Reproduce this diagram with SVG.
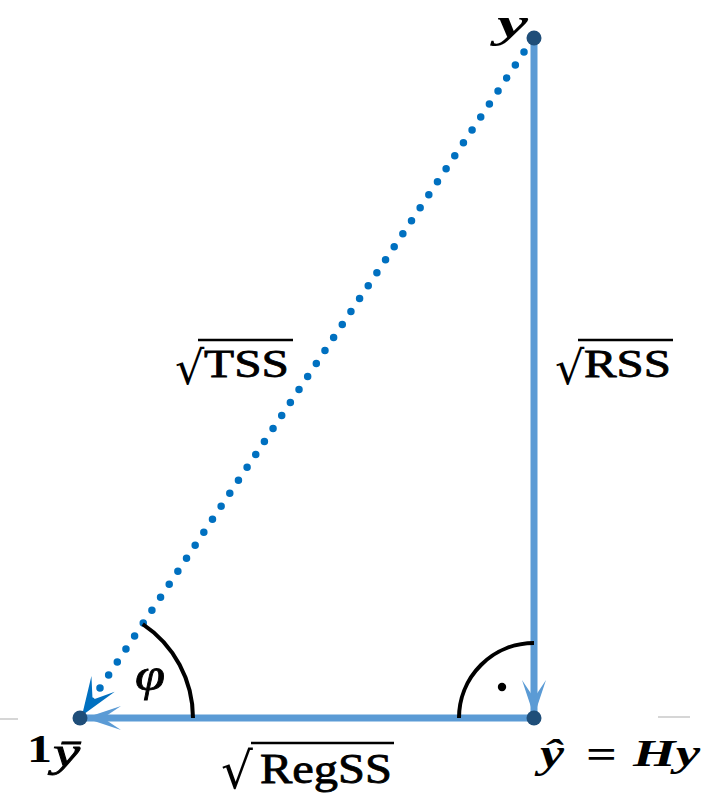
<svg xmlns="http://www.w3.org/2000/svg" width="712" height="799" viewBox="0 0 712 799">
<style>
  .edge{fill:none;stroke:#5b9bd5;stroke-width:7}
  .dots{fill:none;stroke:#0070c0;stroke-width:7.5;stroke-linecap:round;stroke-dasharray:0 15.6}
  .arc{fill:none;stroke:#000;stroke-width:4}
  .pt{fill:#1f4e79}
  .lbl{font-family:"Liberation Serif","Times New Roman",serif;fill:#000}
  .heavy{stroke:#000;stroke-width:0.8}
  .rad{font-family:"DejaVu Serif","Liberation Serif",serif;fill:#000}
  .vinc{stroke:#000;stroke-width:2.5}
  .hair{stroke:#c8c8c8;stroke-width:1.5}
</style>
<defs>
  <marker id="arrLight" markerUnits="userSpaceOnUse" markerWidth="40" markerHeight="30" viewBox="-38 -14 40 28" refX="0" refY="0" orient="auto">
    <path d="M0,0 L-36,-12 L-18,0 L-36,12 Z" fill="#5b9bd5"/>
  </marker>
  <marker id="arrDark" markerUnits="userSpaceOnUse" markerWidth="44" markerHeight="34" viewBox="-42 -16 44 32" refX="0" refY="0" orient="auto">
    <path d="M0,0 L-38,-14 L-19,0 L-38,14 Z" fill="#0070c0"/>
  </marker>
</defs>
<g id="artifacts">
  <line class="hair" x1="0" y1="719" x2="18" y2="719"/>
  <line class="hair" x1="658" y1="717" x2="690" y2="717"/>
</g>
<g id="connectors">
  <path id="e-rss" class="edge" d="M534,38 L534,716" marker-end="url(#arrLight)"/>
  <path id="e-regss" class="edge" d="M534,718 L85,718" marker-end="url(#arrLight)"/>
  <path id="e-tss" class="dots" d="M524,52 L90,703"/>
  <path id="e-tss-head" fill="none" stroke="none" d="M100,688.5 L82,715.5" marker-end="url(#arrDark)"/>
</g>
<g id="angles">
  <path class="arc" d="M193,718 A113,113 0 0 0 142.7,624.1"/>
  <path class="arc" d="M534,643 A75,75 0 0 0 459,718"/>
  <circle cx="502" cy="687" r="4.2" fill="#000"/>
  <text class="lbl heavy" x="135" y="690" font-size="46" font-style="italic" textLength="30" lengthAdjust="spacingAndGlyphs">φ</text>
</g>
<g id="node-y">
  <circle class="pt" cx="534" cy="38" r="7.5"/>
  <text class="lbl" x="497" y="37" font-size="42" font-style="italic" font-weight="bold" textLength="31" lengthAdjust="spacingAndGlyphs">y</text>
</g>
<g id="node-ybar">
  <circle class="pt" cx="80" cy="718" r="7.5"/>
  <text class="lbl" x="27" y="762" font-size="40" font-weight="bold" textLength="25" lengthAdjust="spacingAndGlyphs">1</text>
  <text class="lbl heavy" x="53" y="766" font-size="40" font-style="italic" textLength="27" lengthAdjust="spacingAndGlyphs">ȳ</text>
</g>
<g id="node-yhat">
  <circle class="pt" cx="534" cy="718" r="7.5"/>
  <text class="lbl" x="540" y="767" font-size="40" font-style="italic" font-weight="bold" textLength="24" lengthAdjust="spacingAndGlyphs">ŷ</text>
  <text class="lbl" x="586" y="768" font-size="40" font-weight="bold" textLength="31" lengthAdjust="spacingAndGlyphs">=</text>
  <text class="lbl" x="633" y="766" font-size="38" font-style="italic" font-weight="bold" textLength="67" lengthAdjust="spacingAndGlyphs">Hy</text>
</g>
<g id="label-tss">
  <text class="rad" x="175" y="384" font-size="46">√</text>
  <line class="vinc" x1="198" y1="340" x2="293" y2="340"/>
  <text class="lbl heavy" x="204" y="377" font-size="40" textLength="85" lengthAdjust="spacingAndGlyphs">TSS</text>
</g>
<g id="label-rss">
  <text class="rad" x="555" y="384" font-size="46">√</text>
  <line class="vinc" x1="578" y1="340" x2="673" y2="340"/>
  <text class="lbl heavy" x="584" y="377" font-size="40" textLength="87" lengthAdjust="spacingAndGlyphs">RSS</text>
</g>
<g id="label-regss">
  <text class="rad" x="221" y="788" font-size="50">√</text>
  <line class="vinc" x1="251" y1="743" x2="394" y2="743"/>
  <text class="lbl heavy" x="260" y="783" font-size="42" textLength="132" lengthAdjust="spacingAndGlyphs">RegSS</text>
</g>
</svg>
